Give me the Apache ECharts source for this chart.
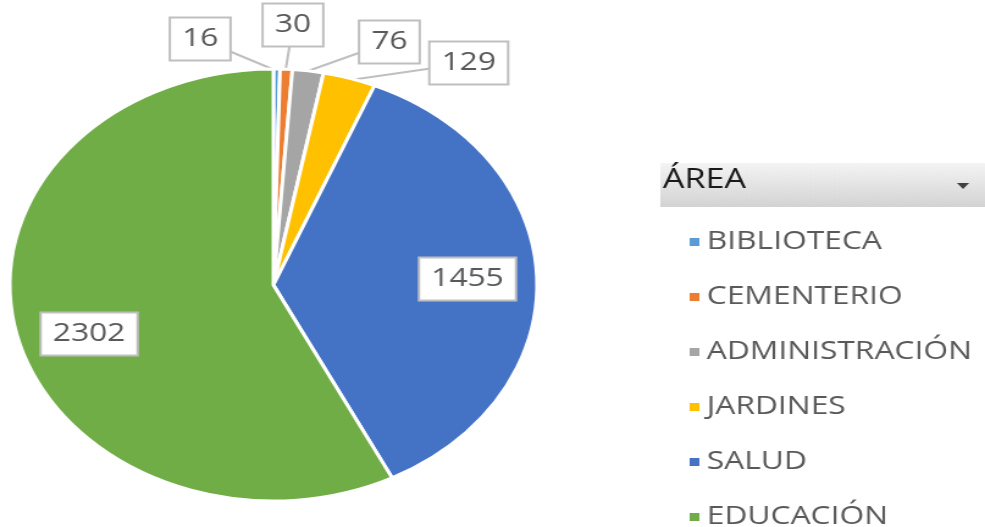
<!DOCTYPE html>
<html>
<head>
<meta charset="utf-8">
<script src="https://cdn.jsdelivr.net/npm/echarts@6/dist/echarts.min.js"></script>
<style>
html, body { margin: 0; padding: 0; background: #fff; overflow: hidden; }
/* the original is an Excel chart stretched horizontally, so draw narrow and stretch */
#chart { width: 807px; height: 527px; transform: scaleX(1.2206); transform-origin: 0 0; }
</style>
</head>
<body>
<div id="chart"></div>
<script>
const areas = ['BIBLIOTECA', 'CEMENTERIO', 'ADMINISTRACIÓN', 'JARDINES', 'SALUD', 'EDUCACIÓN']
const counts = [16, 30, 76, 129, 1455, 2302]
const colors = ['#5B9BD5', '#ED7D31', '#A5A5A5', '#FFC000', '#4472C4', '#70AD47']
const legendTitle = 'ÁREA'

// pie centre / radius (unstretched px)
const cx = 224
const cy = 285
const r = 216

// callout boxes: box centre and pointer tip, relative to pie centre
const calloutBox = [[-60, -246], [16, -260], [95, -243], [160, -222], [159, -6], [-151, 49]]
const calloutTip = [[1, -215], [10, -215], [26, -213], [63, -205], [216, -10], [-209, 55]]

const font = '"Open Sans", "Liberation Sans", sans-serif'

const chart = echarts.init(document.getElementById('chart'))

const option = {
  animation: false,
  color: colors,
  legend: {
    data: areas,
    orient: 'vertical',
    left: 558,
    top: 224,
    height: 320,
    icon: 'rect',
    itemWidth: 10,
    itemHeight: 10,
    itemGap: 29,
    selectedMode: false,
    textStyle: {
      fontFamily: font,
      fontSize: 26,
      lineHeight: 26,
      color: '#595959'
    }
  },
  graphic: [
    {
      type: 'rect',
      left: 541,
      top: 163,
      shape: { width: 266, height: 44 },
      style: {
        fill: new echarts.graphic.LinearGradient(0, 0, 0, 1, [
          { offset: 0, color: '#f4f4f4' },
          { offset: 1, color: '#d3d3d3' }
        ])
      }
    },
    {
      type: 'text',
      left: 543,
      top: 166,
      style: { text: legendTitle, font: '28px ' + font, fill: '#1a1a1a' }
    },
    {
      type: 'polygon',
      shape: { points: [[784, 183], [794, 183], [789, 189]] },
      style: { fill: '#404040' }
    }
  ],
  series: [
    {
      type: 'pie',
      center: [cx, cy],
      radius: r,
      startAngle: 90,
      clockwise: true,
      avoidLabelOverlap: false,
      emphasis: { disabled: true },
      itemStyle: { borderColor: '#fff', borderWidth: 3 },
      label: {
        show: true,
        position: 'outside',
        formatter: '{c}',
        fontFamily: font,
        fontSize: 26,
        color: '#595959',
        backgroundColor: '#fff',
        borderColor: '#bfbfbf',
        borderWidth: 2,
        padding: [9, 9, 6, 9]
      },
      labelLine: {
        show: true,
        length: 10,
        length2: 10,
        lineStyle: { color: '#bfbfbf', width: 2 }
      },
      labelLayout: function (params) {
        const i = params.dataIndex
        const bx = cx + calloutBox[i][0]
        const by = cy + calloutBox[i][1]
        const tx = cx + calloutTip[i][0]
        const ty = cy + calloutTip[i][1]
        return {
          x: bx,
          y: by,
          align: 'center',
          verticalAlign: 'middle',
          labelLinePoints: [[bx, by], [bx, by], [tx, ty]]
        }
      },
      data: areas.map((name, i) => ({ name: name, value: counts[i] }))
    }
  ]
}

chart.setOption(option)
</script>
</body>
</html>
